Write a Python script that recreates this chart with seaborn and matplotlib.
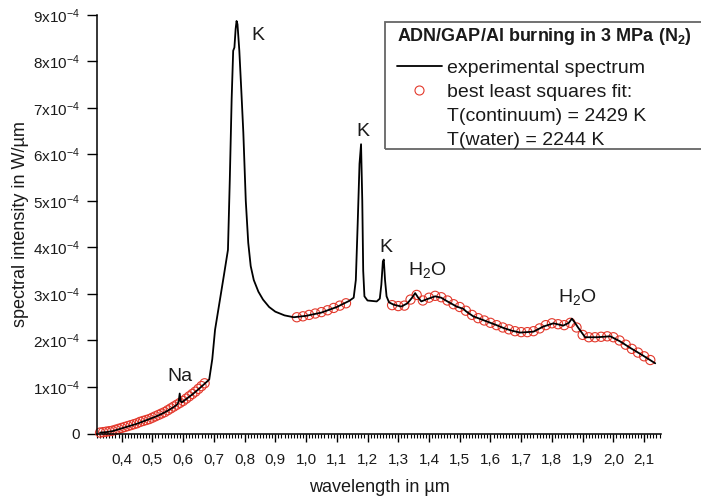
import numpy as np
import pandas as pd
import matplotlib
matplotlib.use("Agg")
import matplotlib.pyplot as plt
from matplotlib.lines import Line2D
from matplotlib.patches import Rectangle
from matplotlib.ticker import FixedLocator, MultipleLocator, FuncFormatter
import seaborn as sns

# ---------------- data (intensity in units of 1e-4 W/um) ----------------
exp_wl = [0.33, 0.35, 0.37, 0.39, 0.41, 0.43, 0.45, 0.47, 0.49, 0.51, 0.53,
          0.55, 0.57, 0.582, 0.586, 0.589, 0.592, 0.596, 0.61, 0.63, 0.65,
          0.67, 0.685, 0.695, 0.704, 0.72, 0.733, 0.746, 0.752, 0.758, 0.763,
          0.767, 0.771, 0.774, 0.777, 0.783, 0.79, 0.796, 0.804, 0.812, 0.82,
          0.83, 0.845, 0.86, 0.88, 0.9, 0.93, 0.96, 1.0, 1.05, 1.10, 1.14,
          1.155, 1.162, 1.168, 1.174, 1.179, 1.183, 1.186, 1.19, 1.2, 1.23,
          1.24, 1.245, 1.25, 1.253, 1.257, 1.262, 1.27, 1.285, 1.31, 1.33,
          1.345, 1.355, 1.365, 1.375, 1.39, 1.42, 1.44, 1.46, 1.49, 1.512,
          1.52, 1.544, 1.588, 1.62, 1.642, 1.67, 1.697, 1.74, 1.772, 1.805,
          1.837, 1.855, 1.865, 1.875, 1.886, 1.908, 1.946, 1.99, 2.022, 2.055,
          2.093, 2.136]
exp_int = [0.02, 0.03, 0.05, 0.09, 0.13, 0.17, 0.21, 0.26, 0.31, 0.36, 0.42,
           0.49, 0.57, 0.63, 0.70, 0.86, 0.70, 0.67, 0.74, 0.84, 0.95,
           1.07, 1.16, 1.6, 2.23, 2.88, 3.41, 3.95, 5.46, 7.19, 8.23,
           8.3, 8.7, 8.87, 8.8, 8.23, 7.3, 6.47, 5.0, 4.1, 3.6,
           3.3, 3.05, 2.88, 2.72, 2.62, 2.54, 2.5, 2.53, 2.6, 2.72, 2.85,
           2.92, 3.3, 4.5, 5.8, 6.22, 5.0, 3.5, 2.95, 2.86, 2.84,
           2.9, 3.2, 3.7, 3.74, 3.3, 2.95, 2.82, 2.77, 2.73, 2.8,
           2.92, 3.02, 2.92, 2.84, 2.88, 2.95, 2.92, 2.84, 2.73, 2.68,
           2.63, 2.52, 2.41, 2.33, 2.27, 2.21, 2.17, 2.19, 2.30, 2.37,
           2.32, 2.38, 2.47, 2.38, 2.27, 2.07, 2.07, 2.09, 1.98, 1.84,
           1.69, 1.51]

fit_wl = [0.33, 0.34, 0.35, 0.36, 0.37, 0.38, 0.39, 0.40, 0.41, 0.42, 0.43,
          0.44, 0.45, 0.46, 0.47, 0.48, 0.49, 0.50, 0.51, 0.52, 0.53, 0.54,
          0.55, 0.56, 0.57, 0.58, 0.59, 0.60, 0.61, 0.62, 0.63, 0.64, 0.65,
          0.66, 0.67,
          0.97, 0.99, 1.01, 1.03, 1.05, 1.07, 1.09, 1.11, 1.13,
          1.28, 1.30, 1.32, 1.34, 1.36, 1.38, 1.40, 1.42, 1.44, 1.46, 1.48,
          1.50, 1.52, 1.54, 1.56, 1.58, 1.60, 1.62, 1.64, 1.66, 1.68, 1.70,
          1.72, 1.74, 1.76, 1.78, 1.80, 1.82, 1.84, 1.86, 1.88, 1.90, 1.92,
          1.94, 1.96, 1.98, 2.00, 2.02, 2.04, 2.06, 2.08, 2.10, 2.12]
fit_int = [0.02, 0.03, 0.04, 0.05, 0.06, 0.08, 0.10, 0.12, 0.14, 0.16, 0.18,
           0.20, 0.22, 0.25, 0.27, 0.29, 0.31, 0.34, 0.37, 0.40, 0.43, 0.46,
           0.50, 0.54, 0.58, 0.62, 0.66, 0.70, 0.75, 0.80, 0.85, 0.90, 0.96,
           1.02, 1.08,
           2.50, 2.52, 2.55, 2.58, 2.61, 2.65, 2.70, 2.75, 2.80,
           2.76, 2.74, 2.75, 2.88, 2.98, 2.86, 2.92, 2.96, 2.93, 2.86, 2.78,
           2.72, 2.64, 2.55, 2.48, 2.43, 2.38, 2.33, 2.28, 2.24, 2.20, 2.18,
           2.18, 2.20, 2.26, 2.33, 2.37, 2.35, 2.33, 2.38, 2.28, 2.12, 2.07,
           2.07, 2.08, 2.09, 2.07, 2.00, 1.91, 1.82, 1.74, 1.66, 1.58]

y_ticks = [0, 1, 2, 3, 4, 5, 6, 7, 8, 9]
x_ticks = [0.4, 0.5, 0.6, 0.7, 0.8, 0.9, 1.0, 1.1, 1.2, 1.3, 1.4, 1.5,
           1.6, 1.7, 1.8, 1.9, 2.0, 2.1]

ann_text = ["Na", "K", "K", "K", r"$\mathregular{H_2O}$", r"$\mathregular{H_2O}$"]
ann_wl = [0.59, 0.844, 1.185, 1.26, 1.394, 1.882]
ann_int = [1.22, 8.55, 6.5, 4.0, 3.52, 2.94]

legend_title = r"ADN/GAP/Al burning in 3 MPa (N$\mathregular{_2}$)"
legend_labels = ["experimental spectrum", "best least squares fit:",
                 "T(continuum) = 2429 K", "T(water) = 2244 K"]

SCALE = 1e-4
exp_df = pd.DataFrame({"wl": exp_wl, "I": np.array(exp_int) * SCALE})
fit_df = pd.DataFrame({"wl": fit_wl, "I": np.array(fit_int) * SCALE})

# ---------------- style ----------------
sns.set_theme(style="ticks")
plt.rcParams["font.family"] = ["Liberation Sans", "DejaVu Sans"]
plt.rcParams["mathtext.fontset"] = "custom"
plt.rcParams["mathtext.rm"] = "Liberation Sans"
plt.rcParams["mathtext.it"] = "Liberation Sans:italic"
plt.rcParams["mathtext.bf"] = "Liberation Sans:bold"

RED = "#e3392c"
TXT = "#1a1a1a"
W, H = 701, 498

fig = plt.figure(figsize=(W / 100, H / 100), dpi=100)
ax = fig.add_axes([0.1384, 0.1295, 0.8046, 0.8405])

sns.lineplot(data=exp_df, x="wl", y="I", ax=ax, color="black", lw=1.3,
             estimator=None, sort=False, zorder=3)
sns.scatterplot(data=fit_df, x="wl", y="I", ax=ax, marker="o", s=44,
                facecolor="none", edgecolor=RED, linewidth=0.8,
                clip_on=False, zorder=2)

ax.set_xlim(0.32, 2.155)
ax.set_ylim(0, 9 * SCALE)

ax.xaxis.set_major_locator(FixedLocator(x_ticks))
ax.xaxis.set_minor_locator(MultipleLocator(0.01))
ax.xaxis.set_major_formatter(FuncFormatter(lambda v, p: f"{v:.1f}".replace(".", ",")))
ax.yaxis.set_major_locator(FixedLocator([t * SCALE for t in y_ticks]))

def yfmt(v, p):
    n = int(round(v / SCALE))
    return "0" if n == 0 else r"$\mathregular{%dx10^{-4}}$" % n
ax.yaxis.set_major_formatter(FuncFormatter(yfmt))

ax.tick_params(axis="both", which="major", labelsize=11, colors="black",
               labelcolor=TXT, width=1.0)
ax.tick_params(axis="x", which="major", length=6, pad=8)
ax.tick_params(axis="x", which="minor", length=3, width=0.8, color="black")
ax.tick_params(axis="y", which="major", length=7, pad=5)

for side in ["top", "right"]:
    ax.spines[side].set_visible(False)
for side in ["left", "bottom"]:
    ax.spines[side].set_linewidth(1.1)
    ax.spines[side].set_color("black")

ax.set_xlabel("wavelength in µm", fontsize=13, color=TXT, labelpad=9)
ax.set_ylabel("spectral intensity in W/µm", fontsize=13, color=TXT, labelpad=3)

for t, xw, yi in zip(ann_text, ann_wl, ann_int):
    ax.text(xw, yi * SCALE, t, fontsize=14, color=TXT, ha="center", va="center")

# ---------------- legend ----------------
handles = [
    Line2D([], [], color="black", lw=1.3),
    Line2D([], [], color=RED, marker="o", ls="none", mfc="none", mew=0.8, ms=6.5),
    Line2D([], [], ls="none"),
    Line2D([], [], ls="none"),
]
leg = fig.legend(handles, legend_labels, loc="upper left",
                 bbox_to_anchor=(397 / W, 1 - 26 / H),
                 title=legend_title,
                 title_fontproperties={"weight": "bold", "size": 13},
                 fontsize=14, frameon=False, handlelength=2.3,
                 handletextpad=0.28, labelspacing=0.33, borderpad=0,
                 borderaxespad=0)
leg._legend_box.align = "left"
leg._legend_box.sep = 9
for t in leg.get_texts():
    t.set_color(TXT)
leg.get_title().set_color(TXT)

frame = Rectangle((385 / W, 1 - 149 / H), (712 - 385) / W, (149 - 21.7) / H,
                  transform=fig.transFigure, fill=False, edgecolor="#666666",
                  linewidth=1.3, clip_on=False)
fig.add_artist(frame)

fig.savefig("out.png", dpi=100)
